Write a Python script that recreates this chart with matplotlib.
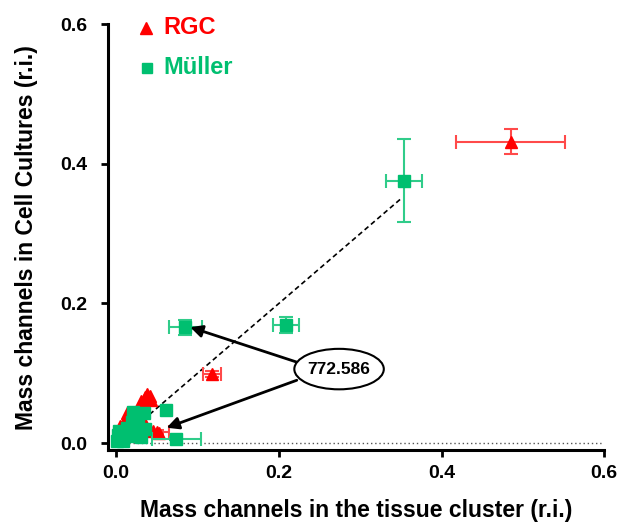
import matplotlib

matplotlib.use("Agg")
import matplotlib.pyplot as plt
from matplotlib.patches import Ellipse

plt.rcParams["font.family"] = ["Liberation Sans", "DejaVu Sans"]
plt.rcParams["font.weight"] = "bold"

RED = "#ff0000"
RED_ERR = "#ff4a4a"
GREEN = "#00bf70"
GREEN_ERR = "#30cc8a"

# points with error bars (x, y, xerr, yerr)
rgc_x = [0.485, 0.118, 0.050]
rgc_y = [0.432, 0.099, 0.016]
rgc_xerr = [0.067, 0.011, 0.015]
rgc_yerr = [0.018, 0.004, 0.003]

muller_x = [0.354, 0.085, 0.209, 0.074]
muller_y = [0.376, 0.166, 0.169, 0.006]
muller_xerr = [0.022, 0.020, 0.016, 0.030]
muller_yerr = [0.060, 0.011, 0.012, 0.002]

# small cluster near the origin (no visible error bars)
rgc_cx = [0.030, 0.035, 0.038, 0.041, 0.043, 0.005, 0.010, 0.008, 0.045, 0.053,
          0.033, 0.013, 0.020, 0.002, 0.025]
rgc_cy = [0.060, 0.066, 0.070, 0.068, 0.062, 0.025, 0.030, 0.020, 0.018, 0.014,
          0.033, 0.043, 0.022, 0.010, 0.040]

muller_cx = [0.061, 0.034, 0.021, 0.035, 0.005, 0.013, 0.020, 0.002, 0.008, 0.027,
             0.030, 0.015, 0.004, 0.010, 0.024, 0.001]
muller_cy = [0.047, 0.043, 0.044, 0.020, 0.005, 0.022, 0.030, 0.012, 0.003, 0.037,
             0.008, 0.010, 0.018, 0.014, 0.026, 0.003]

line_x = [0.01, 0.352]
line_y = [0.01, 0.352]

label_text = "772.586"
label_pos = (0.274, 0.106)
arrow_targets = [(0.091, 0.166), (0.062, 0.022)]
arrow_starts = [(0.222, 0.116), (0.222, 0.090)]


def main() -> None:
    fig = plt.figure(figsize=(6.21, 5.27), dpi=100)
    ax = fig.add_axes([0.174, 0.146, 0.799, 0.808])

    ax.axhline(0, color="#555555", ls=(0, (1, 2)), lw=1, zorder=1)
    ax.plot(line_x, line_y, color="black", ls=(0, (3, 2)), lw=1.2, zorder=1)

    ax.errorbar(rgc_x, rgc_y, xerr=rgc_xerr, yerr=rgc_yerr, fmt="^", ms=9,
                color=RED, ecolor=RED_ERR, elinewidth=1.5, capsize=5,
                capthick=1.5, zorder=3)
    ax.plot(rgc_cx, rgc_cy, "^", ms=9, color=RED, zorder=3, clip_on=False)
    ax.errorbar(muller_x, muller_y, xerr=muller_xerr, yerr=muller_yerr, fmt="s",
                ms=8, color=GREEN, ecolor=GREEN_ERR, elinewidth=1.5, capsize=5,
                capthick=1.5, zorder=4)
    ax.plot(muller_cx, muller_cy, "s", ms=8, color=GREEN, zorder=4, clip_on=False)

    for (sx, sy), (tx, ty) in zip(arrow_starts, arrow_targets):
        ax.annotate("", xy=(tx, ty), xytext=(sx, sy),
                    arrowprops=dict(arrowstyle="-|>", color="black", lw=2,
                                    mutation_scale=18, shrinkA=0, shrinkB=0),
                    zorder=5)
    ax.add_patch(Ellipse(label_pos, 0.11, 0.058, facecolor="white",
                         edgecolor="black", lw=1.5, zorder=6))
    ax.text(*label_pos, label_text, ha="center", va="center", fontsize=12.5,
            fontweight="bold", zorder=7)

    # legend drawn as text
    ax.plot([0.037], [0.594], "^", ms=8, color=RED, clip_on=False)
    ax.text(0.058, 0.596, "RGC", color=RED, fontsize=17, fontweight="bold",
            va="center")
    ax.plot([0.038], [0.538], "s", ms=7, color=GREEN, clip_on=False)
    ax.text(0.058, 0.538, "Müller", color=GREEN, fontsize=17, fontweight="bold",
            va="center")

    ax.set_xlim(-0.01, 0.6)
    ax.set_ylim(-0.01, 0.6)
    ax.set_xticks([0.0, 0.2, 0.4, 0.6])
    ax.set_yticks([0.0, 0.2, 0.4, 0.6])
    ax.set_xticklabels(["0.0", "0.2", "0.4", "0.6"])
    ax.set_yticklabels(["0.0", "0.2", "0.4", "0.6"])
    for s in ["top", "right"]:
        ax.spines[s].set_visible(False)
    for s in ["left", "bottom"]:
        ax.spines[s].set_linewidth(2.2)
    ax.tick_params(width=2, length=5, labelsize=14)
    ax.tick_params(axis="y", pad=10)
    ax.tick_params(axis="x", pad=6)
    for lab in ax.get_xticklabels() + ax.get_yticklabels():
        lab.set_fontweight("bold")
    ax.set_xlabel("Mass channels in the tissue cluster (r.i.)", fontsize=16.5,
                  fontweight="bold", labelpad=12)
    ax.set_ylabel("Mass channels in Cell Cultures (r.i.)", fontsize=16.5,
                  fontweight="bold", labelpad=16)

    fig.savefig("out.png", dpi=100)
    plt.close(fig)


if __name__ == "__main__":
    main()
